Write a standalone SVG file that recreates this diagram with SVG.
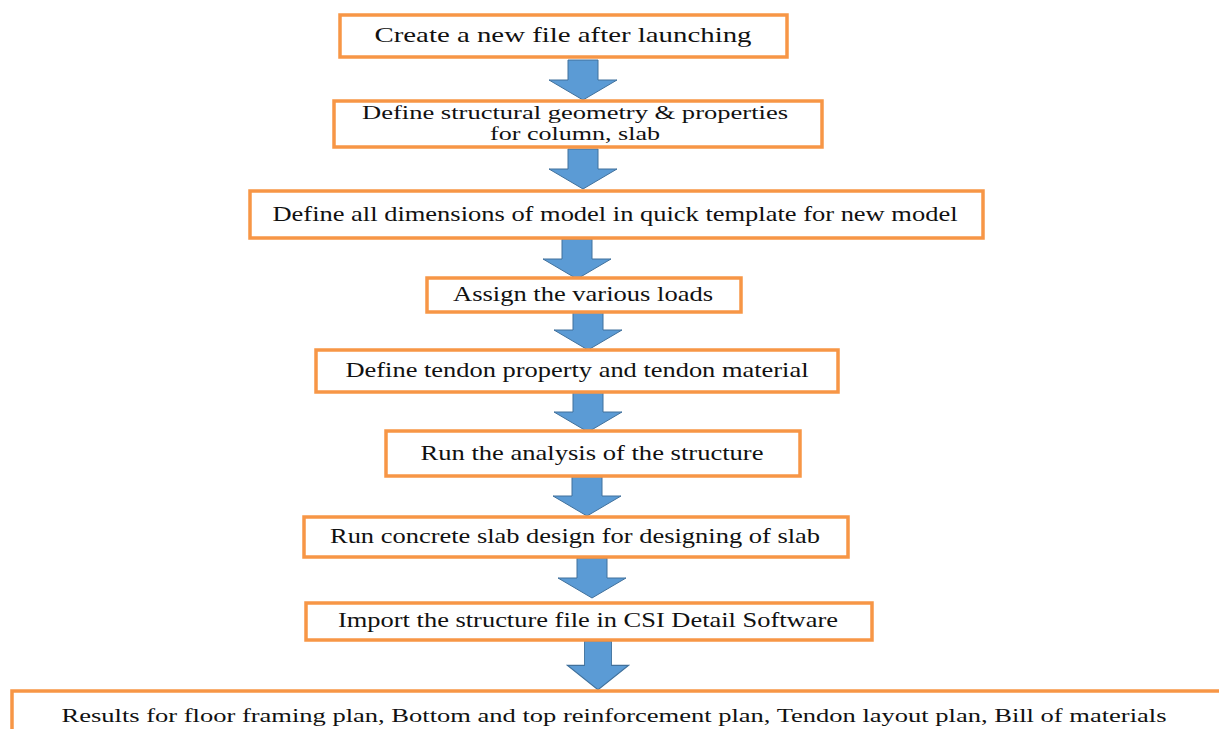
<svg xmlns="http://www.w3.org/2000/svg" width="1219" height="729" viewBox="0 0 1219 729">
<defs>
<style>
.box{fill:#ffffff;stroke:#F79646;stroke-width:3.5}
.t{font-family:"Liberation Serif","Times New Roman",serif;font-size:21px;fill:#111;text-anchor:middle}
.t2{font-family:"Liberation Serif","Times New Roman",serif;font-size:18px;fill:#111;text-anchor:middle}
.t9{font-family:"Liberation Serif","Times New Roman",serif;font-size:19px;fill:#111;text-anchor:middle}
.arr{fill:#5B9BD5;stroke:#41719C;stroke-width:1}
</style>
<path id="arrow" d="M-15,0 H15 V20 H34 L0,40 L-34,20 H-15 Z"/>
</defs>
<rect width="1219" height="729" fill="#ffffff"/>
<g id="connectors">
<use href="#arrow" class="arr" transform="translate(583,60)"/>
<use href="#arrow" class="arr" transform="translate(583,149)"/>
<use href="#arrow" class="arr" transform="translate(577,239)"/>
<use href="#arrow" class="arr" transform="translate(588,310)"/>
<use href="#arrow" class="arr" transform="translate(588,392)"/>
<use href="#arrow" class="arr" transform="translate(587,476)"/>
<use href="#arrow" class="arr" transform="translate(592,558)"/>
<use href="#arrow" class="arr" transform="translate(598,641) scale(0.9,1.22)"/>
</g>
<g id="n1"><rect class="box" x="340" y="15" width="447" height="42"/><text class="t" x="563" y="42" textLength="377" lengthAdjust="spacingAndGlyphs">Create a new file after launching</text></g>
<g id="n2"><rect class="box" x="334" y="101" width="488" height="46"/><text class="t2" x="575" y="119" textLength="426" lengthAdjust="spacingAndGlyphs">Define structural geometry &amp; properties</text><text class="t2" x="575" y="140" textLength="170" lengthAdjust="spacingAndGlyphs">for column, slab</text></g>
<g id="n3"><rect class="box" x="250" y="191" width="733" height="47"/><text class="t" x="615" y="221" textLength="685" lengthAdjust="spacingAndGlyphs">Define all dimensions of model in quick template for new model</text></g>
<g id="n4"><rect class="box" x="427" y="278" width="314" height="34"/><text class="t" x="583" y="301" textLength="260" lengthAdjust="spacingAndGlyphs">Assign the various loads</text></g>
<g id="n5"><rect class="box" x="316" y="350" width="522" height="42"/><text class="t" x="577" y="377" textLength="463" lengthAdjust="spacingAndGlyphs">Define tendon property and tendon material</text></g>
<g id="n6"><rect class="box" x="386" y="431" width="414" height="45"/><text class="t" x="592" y="460" textLength="343" lengthAdjust="spacingAndGlyphs">Run the analysis of the structure</text></g>
<g id="n7"><rect class="box" x="304" y="517" width="544" height="40"/><text class="t" x="575" y="543" textLength="490" lengthAdjust="spacingAndGlyphs">Run concrete slab design for designing of slab</text></g>
<g id="n8"><rect class="box" x="306" y="603" width="566" height="37"/><text class="t" x="588" y="627" textLength="500" lengthAdjust="spacingAndGlyphs">Import the structure file in CSI Detail Software</text></g>
<g id="n9"><rect class="box" x="12" y="691" width="1220" height="50"/><text class="t9" x="614" y="722" textLength="1105" lengthAdjust="spacingAndGlyphs">Results for floor framing plan, Bottom and top reinforcement plan, Tendon layout plan, Bill of materials</text></g>
</svg>
